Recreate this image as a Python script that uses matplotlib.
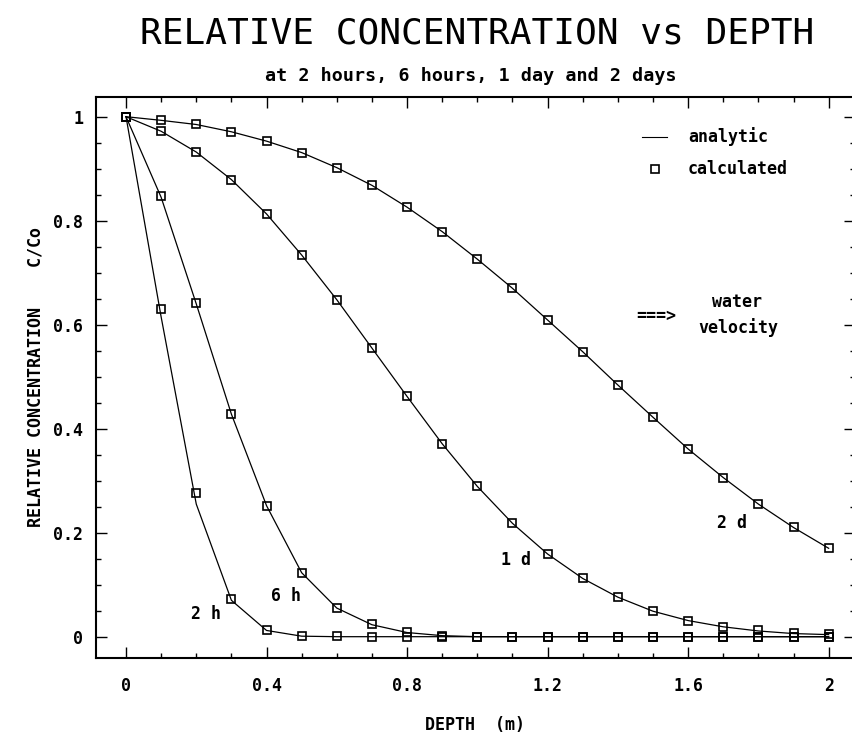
import matplotlib
matplotlib.use("Agg")
import matplotlib.pyplot as plt
from matplotlib.ticker import MultipleLocator

# depth (m), one point every 0.1 m
depth = [0.0, 0.1, 0.2, 0.3, 0.4, 0.5, 0.6, 0.7, 0.8, 0.9, 1.0,
         1.1, 1.2, 1.3, 1.4, 1.5, 1.6, 1.7, 1.8, 1.9, 2.0]

# analytic solution (lines)
ana_2h = [1.0, 0.615, 0.255, 0.070, 0.012, 0.001, 0.0, 0.0, 0.0, 0.0, 0.0,
          0.0, 0.0, 0.0, 0.0, 0.0, 0.0, 0.0, 0.0, 0.0, 0.0]
ana_6h = [1.0, 0.845, 0.640, 0.428, 0.252, 0.123, 0.055, 0.023, 0.008, 0.002, 0.0,
          0.0, 0.0, 0.0, 0.0, 0.0, 0.0, 0.0, 0.0, 0.0, 0.0]
ana_1d = [1.0, 0.972, 0.932, 0.879, 0.813, 0.734, 0.648, 0.555, 0.462, 0.371, 0.289,
          0.218, 0.159, 0.112, 0.076, 0.049, 0.031, 0.019, 0.011, 0.006, 0.004]
ana_2d = [1.0, 0.993, 0.985, 0.971, 0.953, 0.931, 0.902, 0.868, 0.826, 0.779, 0.726,
          0.670, 0.609, 0.548, 0.484, 0.422, 0.361, 0.306, 0.255, 0.210, 0.170]

# calculated values (squares)
calc_2h = [1.0, 0.630, 0.276, 0.072, 0.013, 0.002, 0.001, 0.0, 0.0, 0.0, 0.0,
           0.0, 0.0, 0.0, 0.0, 0.0, 0.0, 0.0, 0.0, 0.0, 0.0]
calc_6h = [1.0, 0.847, 0.642, 0.428, 0.252, 0.123, 0.055, 0.024, 0.009, 0.002, 0.0,
           0.0, 0.0, 0.0, 0.0, 0.0, 0.0, 0.0, 0.0, 0.0, 0.0]
calc_1d = [1.0, 0.972, 0.932, 0.879, 0.813, 0.734, 0.648, 0.555, 0.462, 0.371, 0.289,
           0.218, 0.159, 0.112, 0.076, 0.049, 0.031, 0.019, 0.012, 0.007, 0.005]
calc_2d = [1.0, 0.993, 0.985, 0.971, 0.953, 0.931, 0.902, 0.868, 0.826, 0.779, 0.726,
           0.670, 0.609, 0.548, 0.484, 0.422, 0.361, 0.306, 0.255, 0.210, 0.170]

curve_names = ["2 h", "6 h", "1 d", "2 d"]

xticks = [0, 0.4, 0.8, 1.2, 1.6, 2.0]
xtick_labels = ["0", "0.4", "0.8", "1.2", "1.6", "2"]
yticks = [0, 0.2, 0.4, 0.6, 0.8, 1.0]
ytick_labels = ["0", "0.2", "0.4", "0.6", "0.8", "1"]

MONO = "DejaVu Sans Mono"
W, H = 852, 737

fig = plt.figure(figsize=(W / 100, H / 100), dpi=100)
# axes box measured in pixels on the original
x0, x1, y0, y1 = 96, 855, 97.3, 657.7
ax = fig.add_axes([x0 / W, 1 - y1 / H, (x1 - x0) / W, (y1 - y0) / H])

for ana in (ana_2h, ana_6h, ana_1d, ana_2d):
    ax.plot(depth, ana, color="black", lw=0.9)
for calc in (calc_2h, calc_6h, calc_1d, calc_2d):
    ax.plot(depth, calc, ls="none", marker="s", ms=6, mew=1.2,
            mfc="none", mec="black")

ax.set_xlim(-0.0854, 2.075)
ax.set_ylim(-0.0404, 1.0373)

ax.set_xticks(xticks)
ax.set_xticklabels(xtick_labels)
ax.set_yticks(yticks)
ax.set_yticklabels(ytick_labels)
ax.xaxis.set_minor_locator(MultipleLocator(0.1))
ax.yaxis.set_minor_locator(MultipleLocator(0.05))
ax.tick_params(which="both", direction="in", top=True, right=True, width=1.0)
ax.tick_params(which="major", length=8)
ax.tick_params(which="minor", length=3.5)
ax.tick_params(axis="x", which="major", pad=14)
ax.tick_params(axis="y", which="major", pad=9)
for lab in ax.get_xticklabels() + ax.get_yticklabels():
    lab.set_fontfamily(MONO)
    lab.set_fontweight("bold")
    lab.set_fontsize(12)
for side in ("left", "bottom", "top"):
    ax.spines[side].set_linewidth(1.5)
ax.spines["right"].set_visible(False)

small = dict(family=MONO, weight="bold", fontsize=12, color="black")

# curve labels
label_pos = [(0.228, 0.043), (0.455, 0.078), (1.111, 0.147), (1.725, 0.219)]
for name, (lx, ly) in zip(curve_names, label_pos):
    ax.text(lx, ly, name, ha="center", va="center", **small)

# legend drawn by hand like the plotter did
ax.plot([1.468, 1.540], [0.9615, 0.9615], color="black", lw=0.8)
ax.text(1.600, 0.9615, "analytic", ha="left", va="center", **small)
ax.plot([1.505], [0.8994], ls="none", marker="s", ms=6, mew=1.2,
        mfc="none", mec="black")
ax.text(1.600, 0.8994, "calculated", ha="left", va="center", **small)

ax.text(1.508, 0.617, "===>", ha="center", va="center", **small)
ax.text(1.739, 0.643, "water", ha="center", va="center", **small)
ax.text(1.742, 0.595, "velocity", ha="center", va="center", **small)

# titles and axis labels
fig.text(477 / W, 1 - 33 / H, "RELATIVE CONCENTRATION vs DEPTH",
         family=MONO, fontsize=26, ha="center", va="center")
fig.text(471 / W, 1 - 76 / H, "at 2 hours, 6 hours, 1 day and 2 days",
         family=MONO, weight="bold", fontsize=13.2, ha="center", va="center")
fig.text(475 / W, 1 - 725 / H, "DEPTH  (m)", ha="center", va="center", **small)
fig.text(36 / W, 1 - 377 / H, "RELATIVE CONCENTRATION    C/Co", rotation=90,
         ha="center", va="center", **small)

fig.savefig("out.png", dpi=100)
